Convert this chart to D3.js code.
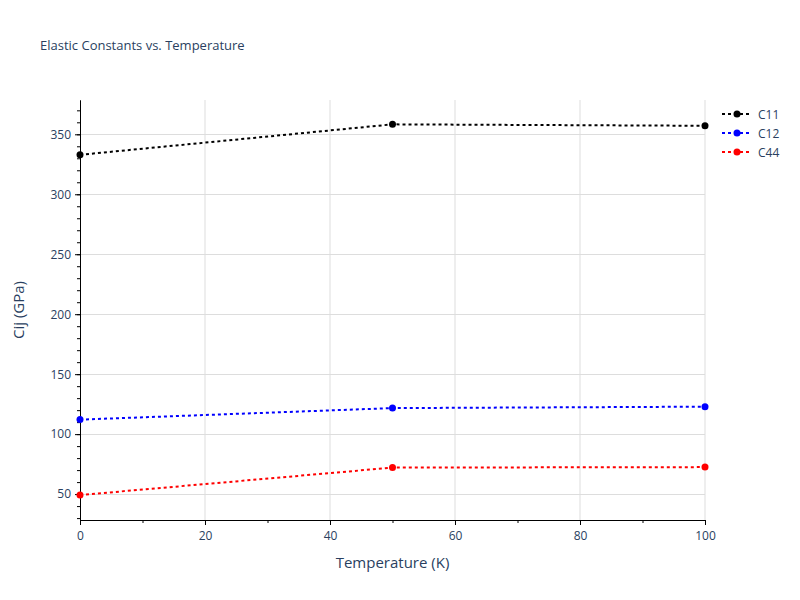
<!DOCTYPE html>
<html><head><meta charset="utf-8">
<script src="https://cdn.jsdelivr.net/npm/d3@7"></script>
<style>body{margin:0;background:#fff;} text{font-family:"Open Sans",Verdana,Arial,sans-serif;}</style>
</head><body><svg id="c" width="800" height="600"></svg>
<script>
const temperatures = [0, 50, 100];
const c11 = [332.9, 358.3, 357.1];
const c12 = [112.1, 121.7, 122.9];
const c44 = [49.2, 72.1, 72.5];
const seriesNames = ["C11", "C12", "C44"];
const seriesColors = ["#000000", "#0000ff", "#ff0000"];
const xTicks = [0, 20, 40, 60, 80, 100];
const yTicks = [50, 100, 150, 200, 250, 300, 350];

const series = [c11, c12, c44].map((v, i) => ({name: seriesNames[i], color: seriesColors[i], values: v}));
const svg = d3.select("#c");
const L = 80, R = 705, T = 100, B = 520;
const x = d3.scaleLinear().domain([0, 100]).range([L, R]);
const y = d3.scaleLinear().domain([28.4, 378.6]).range([B, T]);
const txt = "#2a3f5f";

// grid
svg.append("g").selectAll("line").data(xTicks.filter(d => d > 0)).join("line")
  .attr("x1", d => x(d)).attr("x2", d => x(d)).attr("y1", T).attr("y2", B)
  .attr("stroke", "#dddddd").attr("stroke-width", 1);
svg.append("g").selectAll("line").data(yTicks).join("line")
  .attr("x1", L).attr("x2", R).attr("y1", d => Math.round(y(d)) + 0.5).attr("y2", d => Math.round(y(d)) + 0.5)
  .attr("stroke", "#dddddd").attr("stroke-width", 1);

// axes
const xAxis = d3.axisBottom(x).tickValues(xTicks).tickSize(5).tickSizeOuter(0).tickPadding(6);
const xMinor = d3.axisBottom(x).tickValues(d3.range(0, 101, 10)).tickSize(3).tickSizeOuter(0).tickFormat("");
const yAxis = d3.axisLeft(y).tickValues(yTicks).tickSize(5).tickSizeOuter(0).tickPadding(4);
const yMinor = d3.axisLeft(y).tickValues(d3.range(30, 380, 10)).tickSize(3).tickSizeOuter(0).tickFormat("");

function style(g) {
  g.select(".domain").attr("stroke", "#000").attr("stroke-width", 1);
  g.selectAll(".tick line").attr("stroke", "#000");
  g.selectAll(".tick text").attr("fill", txt).style("font-size", "12px").style("font-family", '"Open Sans",Verdana,Arial,sans-serif');
}
svg.append("g").attr("transform", `translate(0,${B})`).call(xMinor).call(style);
svg.append("g").attr("transform", `translate(0,${B})`).call(xAxis).call(style);
svg.append("g").attr("transform", `translate(${L},0)`).call(yMinor).call(style);
svg.append("g").attr("transform", `translate(${L},0)`).call(yAxis).call(style);

// lines
const line = d3.line().x((d, i) => x(temperatures[i])).y(d => y(d));
const plot = svg.append("g");
series.forEach(s => {
  plot.append("path").datum(s.values).attr("d", line).attr("fill", "none")
    .attr("stroke", s.color).attr("stroke-width", 2).attr("stroke-dasharray", "3,3");
  plot.selectAll(null).data(s.values).join("circle")
    .attr("cx", (d, i) => x(temperatures[i])).attr("cy", d => y(d)).attr("r", 3.5).attr("fill", s.color);
});

// title
svg.append("text").attr("x", 40).attr("y", 50).attr("fill", txt).style("font-size", "13px").text("Elastic Constants vs. Temperature");
svg.append("text").attr("x", (L + R) / 2).attr("y", 568).attr("text-anchor", "middle").attr("fill", txt).style("font-size", "15px").text("Temperature (K)");
svg.append("text").attr("transform", `translate(24,${(T + B) / 2}) rotate(-90)`).attr("text-anchor", "middle").attr("fill", txt).style("font-size", "15px").text("Cij (GPa)");

// legend
const lg = svg.append("g");
series.forEach((s, i) => {
  const yy = 114 + i * 19;
  lg.append("line").attr("x1", 722).attr("x2", 752).attr("y1", yy).attr("y2", yy)
    .attr("stroke", s.color).attr("stroke-width", 2).attr("stroke-dasharray", "3,3");
  lg.append("circle").attr("cx", 737).attr("cy", yy).attr("r", 3.5).attr("fill", s.color);
  lg.append("text").attr("x", 758).attr("y", yy + 4.5).attr("fill", txt).style("font-size", "12px").text(s.name);
});
</script></body></html>
